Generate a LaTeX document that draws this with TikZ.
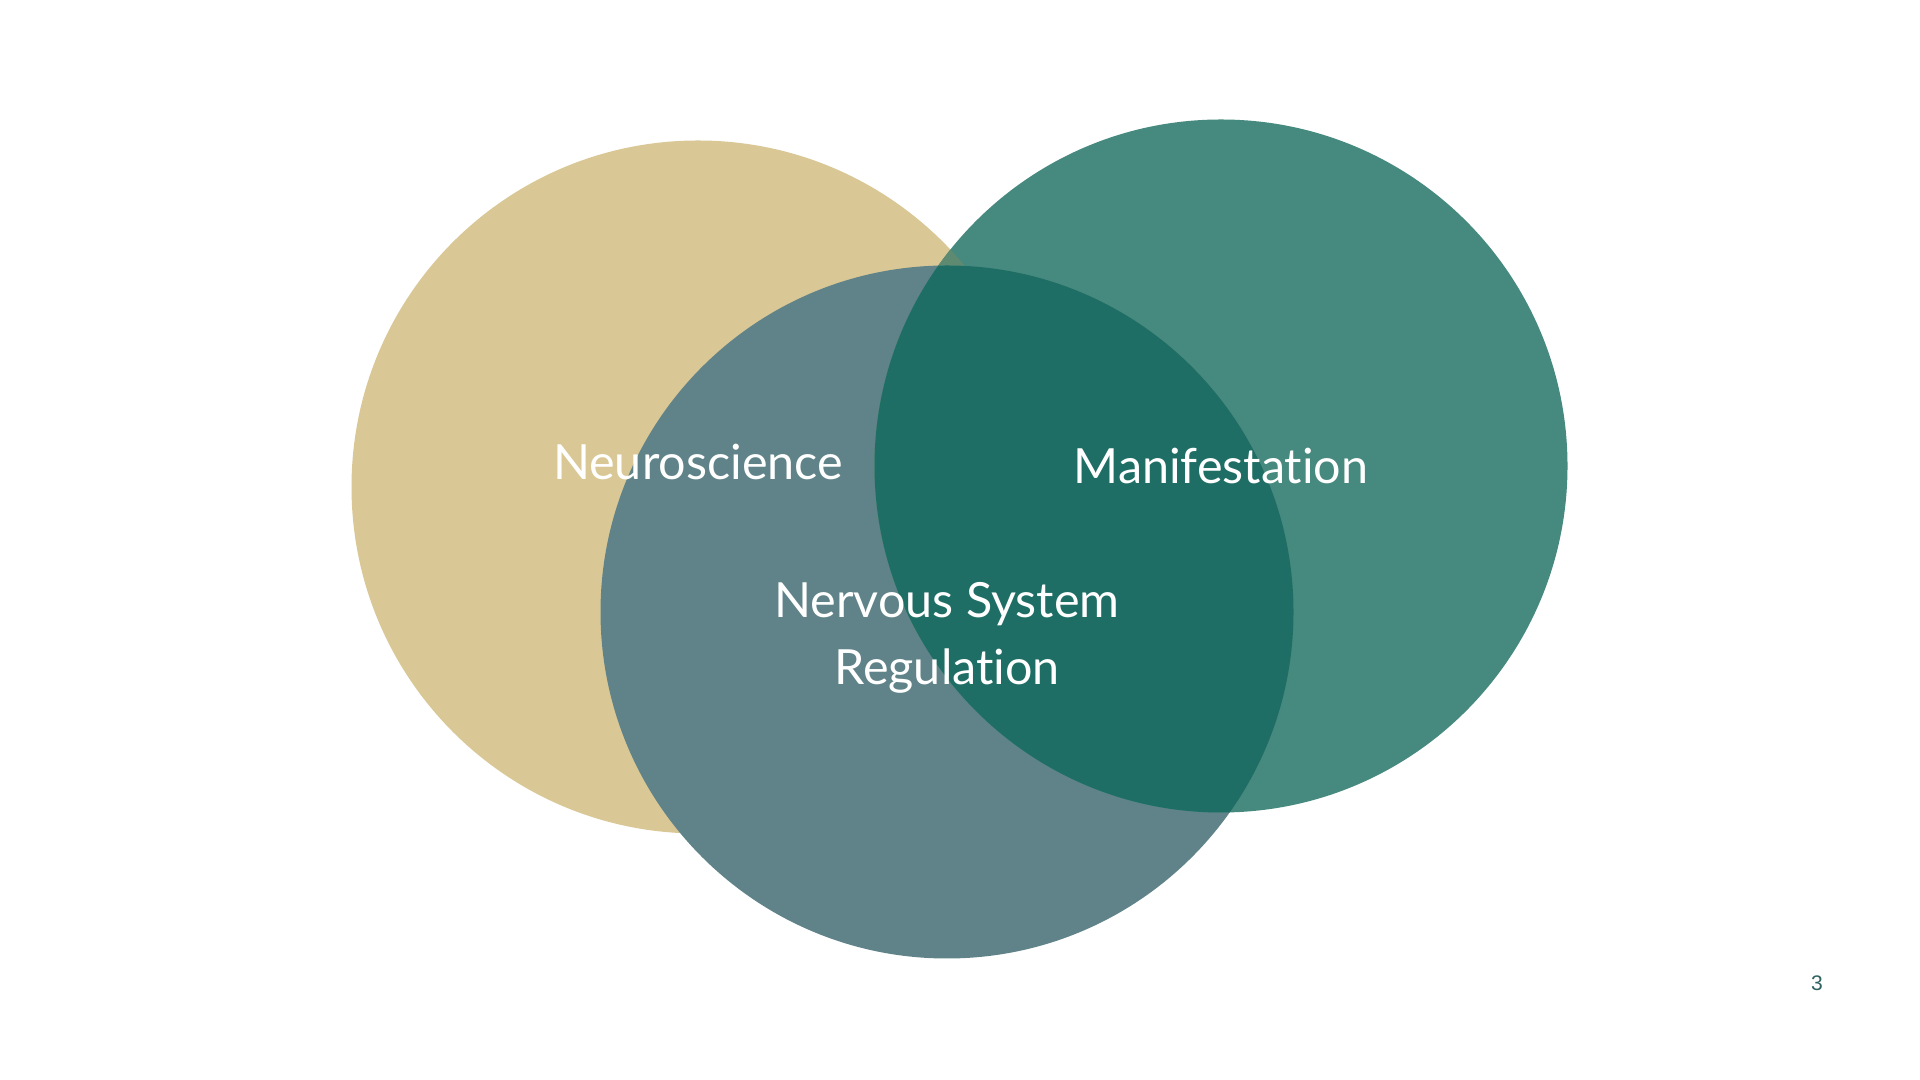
\documentclass[tikz,border=0pt]{standalone}
\usepackage{fontspec}
\setmainfont[Ligatures=NoCommon]{Lato}
\newfontfamily\pagefont{Liberation Sans}
\usepackage{xcolor}
\definecolor{sand}{HTML}{D9C796}
\definecolor{slate}{HTML}{5F8388}
\definecolor{sea}{HTML}{46897E}
\definecolor{deepsea}{HTML}{1F6E66}
\definecolor{olive}{HTML}{5E8A72}
\definecolor{pagenum}{HTML}{2F6262}

\begin{document}
\begin{tikzpicture}[vennlabel/.style={text=white,font=\fontsize{13.8}{19}\selectfont,align=center}]
\useasboundingbox (0,0) rectangle (19.2,10.8);
\fill[white] (0,0) rectangle (19.2,10.8);
\coordinate (neuro) at (6.98,5.93);
\coordinate (mani) at (12.21,6.14);
\coordinate (nerv) at (9.47,4.68);
\def\rad{3.465}
\fill[sand] (neuro) circle (\rad);
\fill[slate] (nerv) circle (\rad);
\fill[sea] (mani) circle (\rad);
\begin{scope}
\clip (mani) circle (\rad);
\fill[olive] (neuro) circle (\rad);
\fill[deepsea] (nerv) circle (\rad);
\end{scope}
\node[vennlabel] (neurotxt) at (6.98,6.18) {Neuroscience};
\node[vennlabel] (manitxt) at (12.21,6.14) {Manifestation};
\node[vennlabel] (nervtxt) at (9.47,4.42) {Nervous System\\Regulation};
\node[text=pagenum,font=\pagefont\fontsize{6}{7}\selectfont] (page) at (18.17,0.97) {3};
\end{tikzpicture}
\end{document}
